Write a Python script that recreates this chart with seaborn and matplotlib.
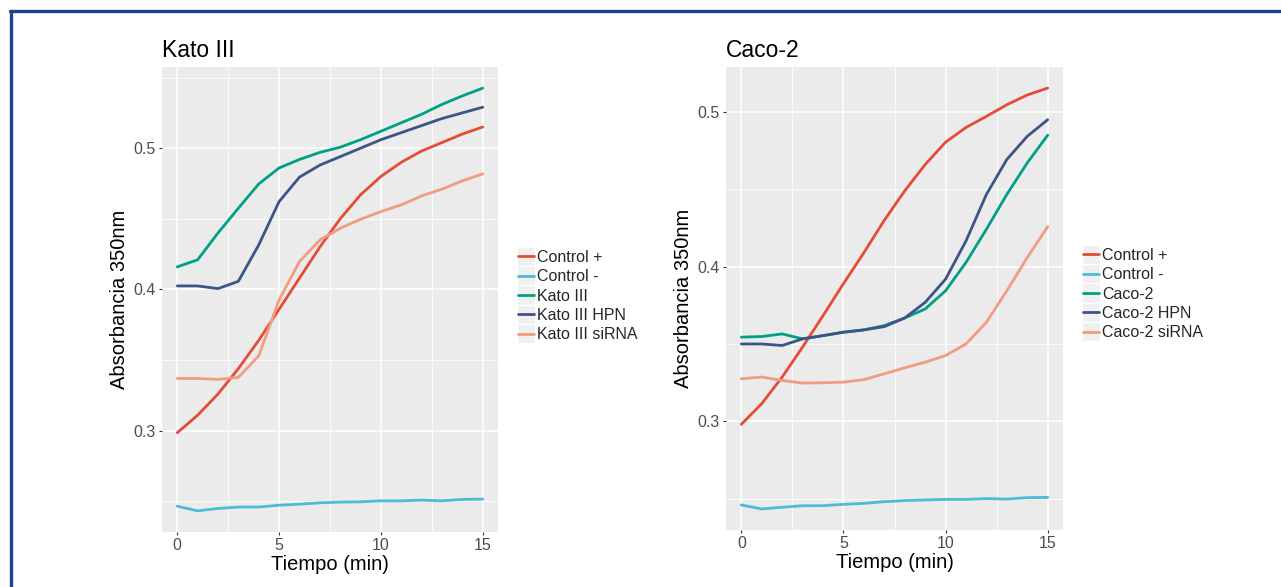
import numpy as np
import pandas as pd
import matplotlib
matplotlib.use("Agg")
import matplotlib.pyplot as plt
import seaborn as sns
from matplotlib.lines import Line2D
from matplotlib.patches import Rectangle
from matplotlib.legend_handler import HandlerLine2D
from matplotlib.ticker import MultipleLocator

# ---------------- data ----------------
tiempo = list(range(16))

kato_labels = ["Control +", "Control -", "Kato III", "Kato III HPN", "Kato III siRNA"]
kato_ctrl_pos = [0.2986, 0.311, 0.326, 0.344, 0.364, 0.386, 0.408, 0.430, 0.450, 0.467, 0.480, 0.490, 0.498, 0.504, 0.510, 0.515]
kato_ctrl_neg = [0.2466, 0.2433, 0.2450, 0.2460, 0.2460, 0.2473, 0.2480, 0.2490, 0.2495, 0.2497, 0.2504, 0.2504, 0.2509, 0.2504, 0.2514, 0.2516]
kato_wt = [0.416, 0.421, 0.440, 0.4575, 0.4747, 0.486, 0.492, 0.497, 0.5007, 0.506, 0.512, 0.518, 0.524, 0.531, 0.537, 0.5425]
kato_hpn = [0.4025, 0.4025, 0.4006, 0.4058, 0.4315, 0.4622, 0.4795, 0.488, 0.494, 0.500, 0.506, 0.511, 0.516, 0.521, 0.525, 0.529]
kato_sirna = [0.337, 0.337, 0.3364, 0.3378, 0.353, 0.3926, 0.4197, 0.435, 0.4433, 0.4497, 0.4551, 0.4599, 0.4662, 0.471, 0.4769, 0.4818]

caco_labels = ["Control +", "Control -", "Caco-2", "Caco-2 HPN", "Caco-2 siRNA"]
caco_ctrl_pos = [0.298, 0.3114, 0.3286, 0.348, 0.3683, 0.389, 0.409, 0.430, 0.449, 0.466, 0.4805, 0.490, 0.4972, 0.5047, 0.511, 0.5155]
caco_ctrl_neg = [0.2459, 0.2433, 0.2444, 0.2454, 0.2454, 0.2463, 0.2469, 0.2480, 0.2487, 0.2491, 0.2495, 0.2495, 0.2500, 0.2497, 0.2506, 0.2508]
caco_wt = [0.3544, 0.3548, 0.3565, 0.3533, 0.3554, 0.3576, 0.3591, 0.3619, 0.3668, 0.3726, 0.3844, 0.4027, 0.4242, 0.4467, 0.4671, 0.485]
caco_hpn = [0.350, 0.350, 0.349, 0.3533, 0.3554, 0.3576, 0.3591, 0.3612, 0.3668, 0.3769, 0.3919, 0.4166, 0.4467, 0.4693, 0.4843, 0.495]
caco_sirna = [0.3275, 0.3286, 0.3264, 0.3247, 0.3249, 0.3253, 0.3269, 0.3307, 0.3346, 0.3382, 0.3425, 0.350, 0.364, 0.3844, 0.4059, 0.4259]

x_ticks = [0, 5, 10, 15]
y_ticks = [0.3, 0.4, 0.5]
colors = ["#E64B35", "#4DBBD5", "#00A087", "#3C5488", "#F39B7F"]

panels = [
    ("Kato III", kato_labels, [kato_ctrl_pos, kato_ctrl_neg, kato_wt, kato_hpn, kato_sirna]),
    ("Caco-2", caco_labels, [caco_ctrl_pos, caco_ctrl_neg, caco_wt, caco_hpn, caco_sirna]),
]

# ---------------- style ----------------
sns.set_theme(style="darkgrid")
plt.rcParams["font.family"] = ["Liberation Sans", "DejaVu Sans"]

W, H = 1281, 587
fig = plt.figure(figsize=(W / 100, H / 100), dpi=100)
fig.patch.set_facecolor("white")

axes_px = [(162, 67, 498, 532), (726, 67, 1063, 530)]
legend_px = [(517, 250), (1082, 248)]


class KeyHandler(HandlerLine2D):
    def create_artists(self, legend, orig_handle, xdescent, ydescent, width, height, fontsize, trans):
        pad = 1.0
        rect = Rectangle((-xdescent, -ydescent - 3), width, height + 6,
                         facecolor="#F0F0F0", edgecolor="white", lw=1.0, transform=trans)
        y = -ydescent + height / 2.0
        line = Line2D([-xdescent + pad, -xdescent + width - pad], [y, y],
                      color=orig_handle.get_color(), lw=orig_handle.get_linewidth(), transform=trans)
        return [rect, line]


for (title, labels, series), (l, t, r, b), (lx, ly) in zip(panels, axes_px, legend_px):
    ax = fig.add_axes([l / W, 1 - b / H, (r - l) / W, (b - t) / H])
    rows = []
    for lab, vals in zip(labels, series):
        for tt, v in zip(tiempo, vals):
            rows.append({"Tiempo": tt, "Abs": v, "Serie": lab})
    df = pd.DataFrame(rows)
    pal = dict(zip(labels, colors))
    sns.lineplot(data=df, x="Tiempo", y="Abs", hue="Serie", hue_order=labels,
                 palette=pal, linewidth=2.0, ax=ax, legend=False)

    ax.set_facecolor("#EBEBEB")
    ymin = min(min(s) for s in series)
    ymax = max(max(s) for s in series)
    rng = ymax - ymin
    ax.set_ylim(ymin - 0.05 * rng, ymax + 0.05 * rng)
    ax.set_xlim(-0.75, 15.75)
    ax.set_xticks(x_ticks)
    ax.set_yticks(y_ticks)
    ax.set_yticklabels([f"{v:.1f}" for v in y_ticks])
    ax.xaxis.set_minor_locator(MultipleLocator(2.5))
    ax.yaxis.set_minor_locator(MultipleLocator(0.05))
    ax.grid(which="major", color="white", lw=1.1)
    ax.grid(which="minor", color="white", lw=0.55)
    ax.set_axisbelow(True)
    for sp in ax.spines.values():
        sp.set_visible(False)
    ax.tick_params(which="major", length=2.5, width=0.8, color="#333333",
                   labelsize=11.5, labelcolor="#4D4D4D", pad=2, bottom=True, left=True)
    ax.tick_params(which="minor", length=0)
    ax.set_xlabel("Tiempo (min)", fontsize=14.5, color="black", labelpad=1)
    ax.set_ylabel("Absorbancia 350nm", fontsize=14.5, color="black", labelpad=3)
    ax.set_title(title, loc="left", fontsize=16.5, color="black", pad=7)

    handles = [Line2D([0], [0], color=c, lw=2.0) for c in colors]
    fig.legend(handles, labels, loc="upper left",
               bbox_to_anchor=(lx / W, 1 - ly / H), bbox_transform=fig.transFigure,
               frameon=False, fontsize=11.5, handlelength=1.15, handletextpad=0.1,
               labelspacing=0.27, borderpad=0, borderaxespad=0,
               handler_map={Line2D: KeyHandler()})

# border frame (top and left)
fig.add_artist(Line2D([10 / W, 1.0], [1 - 11 / H, 1 - 11 / H], color="#1B428A", lw=2.4,
                      transform=fig.transFigure))
fig.add_artist(Line2D([11 / W, 11 / W], [0.0, 1 - 11 / H], color="#1B428A", lw=2.4,
                      transform=fig.transFigure))

fig.savefig("out.png", dpi=100, facecolor="white")
